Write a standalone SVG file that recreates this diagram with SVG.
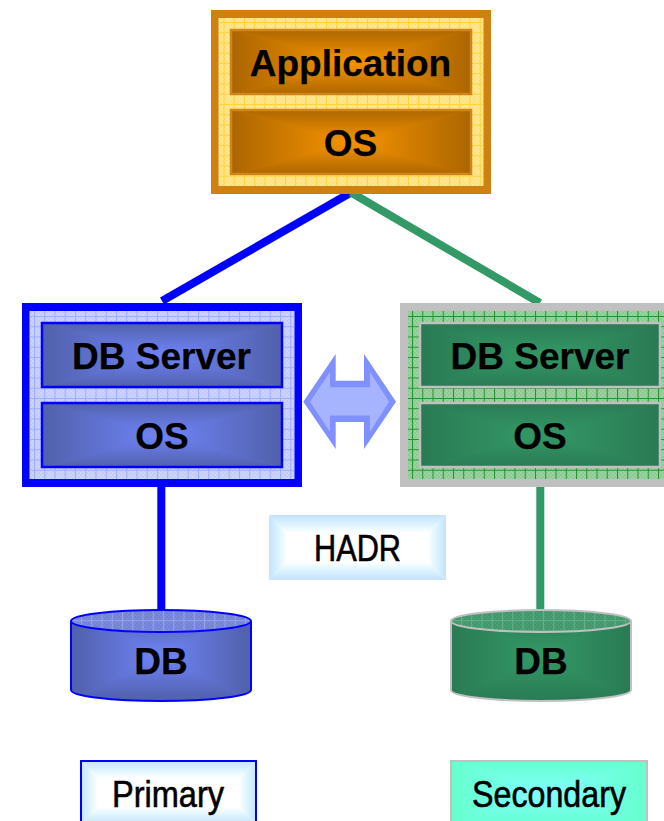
<svg xmlns="http://www.w3.org/2000/svg" xmlns:xlink="http://www.w3.org/1999/xlink" width="664" height="821" viewBox="0 0 664 821">
<style>
text{font-family:"Liberation Sans",Arial,sans-serif;fill:#000;text-anchor:middle}
.b{font-weight:700;font-size:37px;stroke:#000;stroke-width:.25px}
.l{font-size:36px;stroke:#000;stroke-width:.6px}
.ln{fill:none;stroke-width:8}
.orange{fill:none;stroke:#d0841a;stroke-width:2.5}
.blue{fill:none;stroke:#0000ff;stroke-width:2.5}
.green{fill:none;stroke:#c0c0c0;stroke-width:2.5}
</style>
<defs>
<pattern id="dO" width="4" height="4" patternUnits="userSpaceOnUse"><rect width="4" height="4" fill="#ffe27e"/><rect width="2" height="2" fill="#ffe794"/><rect x="2" y="2" width="2" height="2" fill="#ffe794"/></pattern>
<pattern id="gO" width="10.25" height="10.25" patternUnits="userSpaceOnUse" patternTransform="translate(223.500 22)"><path d="M.5 0V10.25M0 .5H10.25" stroke="#ffcc1a" stroke-opacity=".75" stroke-width="1" fill="none"/></pattern>
<pattern id="dB" width="4" height="4" patternUnits="userSpaceOnUse"><rect width="4" height="4" fill="#c2ccff"/><rect width="2" height="2" fill="#ccd4ff"/><rect x="2" y="2" width="2" height="2" fill="#ccd4ff"/></pattern>
<pattern id="gB" width="10.25" height="10.25" patternUnits="userSpaceOnUse" patternTransform="translate(34 316)"><path d="M.5 0V10.25M0 .5H10.25" stroke="#92a2ff" stroke-opacity=".8" stroke-width="1" fill="none"/></pattern>
<pattern id="dG" width="4" height="4" patternUnits="userSpaceOnUse"><rect width="4" height="4" fill="#8dcb94"/><rect width="2" height="2" fill="#9bd1a0"/><rect x="2" y="2" width="2" height="2" fill="#9bd1a0"/></pattern>
<pattern id="gG" width="10.25" height="10.25" patternUnits="userSpaceOnUse" patternTransform="translate(412 316)"><path d="M.5 0V10.25M0 .5H10.25" stroke="#168a22" stroke-opacity=".9" stroke-width="1" fill="none"/></pattern>
<pattern id="dBE" width="4" height="4" patternUnits="userSpaceOnUse"><rect width="4" height="4" fill="#7483d4"/><rect width="2" height="2" fill="#7a89da"/><rect x="2" y="2" width="2" height="2" fill="#7a89da"/></pattern>
<pattern id="gBE" width="10.25" height="10.25" patternUnits="userSpaceOnUse" patternTransform="translate(81 610)"><path d="M.5 0V10.25M0 .5H10.25" stroke="#a0abf0" stroke-opacity=".8" stroke-width="1" fill="none"/></pattern>
<pattern id="dGE" width="4" height="4" patternUnits="userSpaceOnUse"><rect width="4" height="4" fill="#42986c"/><rect width="2" height="2" fill="#489d72"/><rect x="2" y="2" width="2" height="2" fill="#489d72"/></pattern>
<pattern id="gGE" width="10.25" height="10.25" patternUnits="userSpaceOnUse" patternTransform="translate(461 610)"><path d="M.5 0V10.25M0 .5H10.25" stroke="#6db592" stroke-opacity=".8" stroke-width="1" fill="none"/></pattern>

<linearGradient id="oT" x1="0" y1="0" x2="0" y2="1"><stop offset="0" stop-color="#ab6500"/><stop offset="1" stop-color="#f79400"/></linearGradient>
<linearGradient id="oB" x1="0" y1="1" x2="0" y2="0"><stop offset="0" stop-color="#ab6500"/><stop offset="1" stop-color="#f79400"/></linearGradient>
<linearGradient id="oL" x1="0" y1="0" x2="1" y2="0"><stop offset="0" stop-color="#ab6500"/><stop offset="1" stop-color="#f79400"/></linearGradient>
<linearGradient id="oR" x1="1" y1="0" x2="0" y2="0"><stop offset="0" stop-color="#ab6500"/><stop offset="1" stop-color="#f79400"/></linearGradient>
<linearGradient id="bT" x1="0" y1="0" x2="0" y2="1"><stop offset="0" stop-color="#5060aa"/><stop offset="1" stop-color="#7084f8"/></linearGradient>
<linearGradient id="bB" x1="0" y1="1" x2="0" y2="0"><stop offset="0" stop-color="#5060aa"/><stop offset="1" stop-color="#7084f8"/></linearGradient>
<linearGradient id="bL" x1="0" y1="0" x2="1" y2="0"><stop offset="0" stop-color="#5060aa"/><stop offset="1" stop-color="#7084f8"/></linearGradient>
<linearGradient id="bR" x1="1" y1="0" x2="0" y2="0"><stop offset="0" stop-color="#5060aa"/><stop offset="1" stop-color="#7084f8"/></linearGradient>
<linearGradient id="gT" x1="0" y1="0" x2="0" y2="1"><stop offset="0" stop-color="#2a7a54"/><stop offset="1" stop-color="#339966"/></linearGradient>
<linearGradient id="gB2" x1="0" y1="1" x2="0" y2="0"><stop offset="0" stop-color="#2a7a54"/><stop offset="1" stop-color="#339966"/></linearGradient>
<linearGradient id="gL" x1="0" y1="0" x2="1" y2="0"><stop offset="0" stop-color="#2a7a54"/><stop offset="1" stop-color="#339966"/></linearGradient>
<linearGradient id="gR" x1="1" y1="0" x2="0" y2="0"><stop offset="0" stop-color="#2a7a54"/><stop offset="1" stop-color="#339966"/></linearGradient>
<linearGradient id="cT" x1="0" y1="0" x2="0" y2="1"><stop offset="0" stop-color="#c4e2ff"/><stop offset=".6" stop-color="#e0f6ff"/><stop offset="1" stop-color="#ffffff"/></linearGradient>
<linearGradient id="cB" x1="0" y1="1" x2="0" y2="0"><stop offset="0" stop-color="#c4e2ff"/><stop offset=".6" stop-color="#e0f6ff"/><stop offset="1" stop-color="#ffffff"/></linearGradient>
<linearGradient id="cL" x1="0" y1="0" x2="1" y2="0"><stop offset="0" stop-color="#c4e2ff"/><stop offset=".6" stop-color="#e0f6ff"/><stop offset="1" stop-color="#ffffff"/></linearGradient>
<linearGradient id="cR" x1="1" y1="0" x2="0" y2="0"><stop offset="0" stop-color="#c4e2ff"/><stop offset=".6" stop-color="#e0f6ff"/><stop offset="1" stop-color="#ffffff"/></linearGradient>
<linearGradient id="mT" x1="0" y1="0" x2="0" y2="1"><stop offset="0" stop-color="#66ffcc"/><stop offset="1" stop-color="#80ffff"/></linearGradient>
<linearGradient id="mB" x1="0" y1="1" x2="0" y2="0"><stop offset="0" stop-color="#66ffcc"/><stop offset="1" stop-color="#80ffff"/></linearGradient>
<linearGradient id="mL" x1="0" y1="0" x2="1" y2="0"><stop offset="0" stop-color="#66ffcc"/><stop offset="1" stop-color="#80ffff"/></linearGradient>
<linearGradient id="mR" x1="1" y1="0" x2="0" y2="0"><stop offset="0" stop-color="#66ffcc"/><stop offset="1" stop-color="#80ffff"/></linearGradient>

<g id="fO"><path d="M0 0H1V1H0Z" fill="#d08000"/><path d="M0 0H1L.5 .5Z" fill="url(#oT)"/><path d="M0 1H1L.5 .5Z" fill="url(#oB)"/><path d="M0 0V1L.5 .5Z" fill="url(#oL)"/><path d="M1 0V1L.5 .5Z" fill="url(#oR)"/></g>
<g id="fB"><path d="M0 0H1V1H0Z" fill="#6070d0"/><path d="M0 0H1L.5 .5Z" fill="url(#bT)"/><path d="M0 1H1L.5 .5Z" fill="url(#bB)"/><path d="M0 0V1L.5 .5Z" fill="url(#bL)"/><path d="M1 0V1L.5 .5Z" fill="url(#bR)"/></g>
<g id="fG"><path d="M0 0H1V1H0Z" fill="#2e8a5c"/><path d="M0 0H1L.5 .5Z" fill="url(#gT)"/><path d="M0 1H1L.5 .5Z" fill="url(#gB2)"/><path d="M0 0V1L.5 .5Z" fill="url(#gL)"/><path d="M1 0V1L.5 .5Z" fill="url(#gR)"/></g>
<g id="fM"><path d="M0 0H1V1H0Z" fill="#73ffe6"/><path d="M0 0H1L.5 .5Z" fill="url(#mT)"/><path d="M0 1H1L.5 .5Z" fill="url(#mB)"/><path d="M0 0V1L.5 .5Z" fill="url(#mL)"/><path d="M1 0V1L.5 .5Z" fill="url(#mR)"/></g>
<!-- 177 x 65 box with a soft edge band of constant width -->
<g id="fC">
<rect width="177" height="65" fill="#fff"/>
<path d="M0 0H177L159 18H18Z" fill="url(#cT)"/>
<path d="M0 65H177L159 47H18Z" fill="url(#cB)"/>
<path d="M0 0V65L18 47V18Z" fill="url(#cL)"/>
<path d="M177 0V65L159 47V18Z" fill="url(#cR)"/>
</g>

<clipPath id="cyl1"><path d="M71 621V690A90 11 0 0 0 251 690V621A90 11 0 0 1 71 621Z"/></clipPath>
<clipPath id="cyl2"><path d="M451 621V690A90 11 0 0 0 631 690V621A90 11 0 0 1 451 621Z"/></clipPath>
</defs>
<rect width="664" height="821" fill="#fff"/>

<g id="connectors" stroke-linecap="butt">
<path class="ln" stroke="#0000ff" d="M351 192.500L162 301"/>
<path class="ln" stroke="#339966" d="M351 192.500L540 303"/>
<path stroke="#0000ff" stroke-width="8" d="M161.300 487V612"/>
<path stroke="#339966" stroke-width="8" d="M540.300 487V609"/>
</g>

<g id="app">
<rect x="211" y="10" width="280" height="184" fill="#d08010"/>
<rect x="218.500" y="18" width="265" height="168" fill="url(#dO)"/>
<rect x="218.500" y="18" width="265" height="168" fill="url(#gO)"/>
<use xlink:href="#fO" href="#fO" transform="translate(230 29) scale(242 66)"/>
<rect class="orange" x="231" y="30" width="240" height="64"/>
<text class="b" x="350.500" y="76">Application</text>
<use xlink:href="#fO" href="#fO" transform="translate(230 109) scale(242 66)"/>
<rect class="orange" x="231" y="110" width="240" height="64"/>
<text class="b" x="350.500" y="156">OS</text>
</g>

<g id="primary-server">
<rect x="22" y="303" width="280" height="184" fill="#0000ff"/>
<rect x="29.500" y="311" width="265" height="168" fill="url(#dB)"/>
<rect x="29.500" y="311" width="265" height="168" fill="url(#gB)"/>
<use xlink:href="#fB" href="#fB" transform="translate(41 322) scale(242 66)"/>
<rect class="blue" x="42" y="323" width="240" height="64"/>
<text class="b" x="161.500" y="369">DB Server</text>
<use xlink:href="#fB" href="#fB" transform="translate(41 402) scale(242 66)"/>
<rect class="blue" x="42" y="403" width="240" height="64"/>
<text class="b" x="162" y="449">OS</text>
</g>

<g id="secondary-server">
<rect x="400" y="303" width="280" height="184" fill="#c0c0c0"/>
<rect x="408" y="311" width="265" height="168" fill="url(#dG)"/>
<rect x="408" y="311" width="265" height="168" fill="url(#gG)"/>
<use xlink:href="#fG" href="#fG" transform="translate(419 322) scale(242 66)"/>
<rect class="green" x="420" y="323" width="240" height="64"/>
<text class="b" x="540" y="369">DB Server</text>
<use xlink:href="#fG" href="#fG" transform="translate(419 402) scale(242 66)"/>
<rect class="green" x="420" y="403" width="240" height="64"/>
<text class="b" x="540" y="449">OS</text>
</g>

<g id="hadr-arrow">
<polygon fill="#8090ff" points="303.300,401.700 335.700,354 335.700,380.700 364,380.700 364,354 396,401.700 364,449 364,422 335.700,422 335.700,449"/>
<polygon fill="#a6b4ff" points="310,401.700 330,372 330,387.300 370,387.300 370,372 389,401.700 370,431.700 370,415.500 330,415.500 330,431.700"/>
</g>

<g id="hadr-label">
<use xlink:href="#fC" href="#fC" transform="translate(269 515)"/>
<text class="l" x="357.500" y="560.500" textLength="87" lengthAdjust="spacingAndGlyphs">HADR</text>
</g>

<g id="primary-db">
<g clip-path="url(#cyl1)"><use xlink:href="#fB" href="#fB" transform="translate(71 610) scale(180 91)"/></g>
<path d="M71 621V690A90 11 0 0 0 251 690V621" fill="none" stroke="#0000ff" stroke-width="2"/>
<ellipse cx="161" cy="621" rx="90" ry="11" fill="url(#dBE)"/>
<ellipse cx="161" cy="621" rx="90" ry="11" fill="url(#gBE)" stroke="#0000ff" stroke-width="2"/>
<text class="b" x="161" y="673.500">DB</text>
</g>

<g id="secondary-db">
<g clip-path="url(#cyl2)"><use xlink:href="#fG" href="#fG" transform="translate(451 610) scale(180 91)"/></g>
<path d="M451 621V690A90 11 0 0 0 631 690V621" fill="none" stroke="#c0c0c0" stroke-width="2"/>
<ellipse cx="541" cy="621" rx="90" ry="11" fill="url(#dGE)"/>
<ellipse cx="541" cy="621" rx="90" ry="11" fill="url(#gGE)" stroke="#c0c0c0" stroke-width="2"/>
<text class="b" x="541" y="673.500">DB</text>
</g>

<g id="primary-label">
<use xlink:href="#fC" href="#fC" transform="translate(80 760)"/>
<rect x="81" y="761" width="175" height="70" fill="none" stroke="#0000ff" stroke-width="2"/>
<text class="l" x="168" y="807" textLength="112" lengthAdjust="spacingAndGlyphs">Primary</text>
</g>

<g id="secondary-label">
<use xlink:href="#fM" href="#fM" transform="translate(450 760) scale(198 65)"/>
<rect x="451" y="761" width="196" height="70" fill="none" stroke="#c0c0c0" stroke-width="2"/>
<text class="l" x="549" y="807" textLength="154" lengthAdjust="spacingAndGlyphs">Secondary</text>
</g>
</svg>
